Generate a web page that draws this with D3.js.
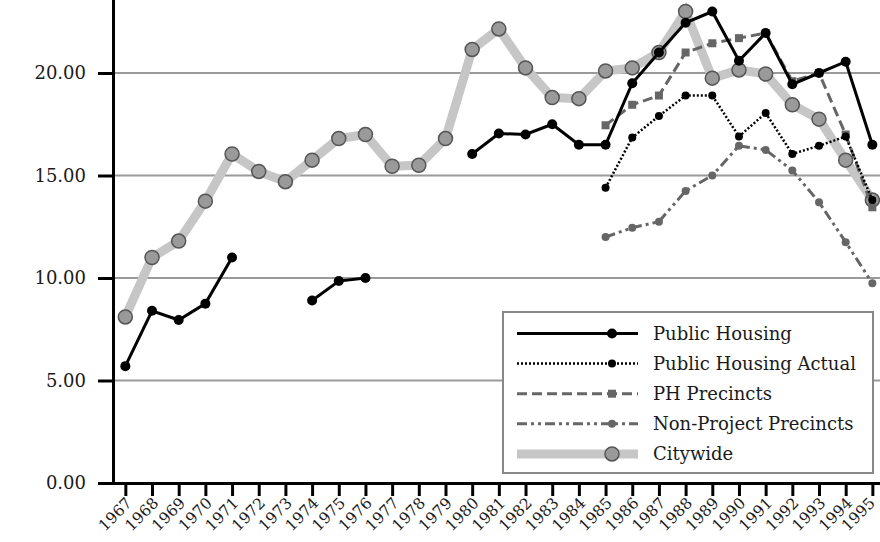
<!DOCTYPE html>
<html>
<head>
<meta charset="utf-8">
<script src="https://cdn.jsdelivr.net/npm/d3@7"></script>
<style>
  html, body { margin: 0; padding: 0; background: #fff; }
  svg { display: block; }
  text { font-family: "DejaVu Serif", serif; fill: #1a1a1a; }
</style>
</head>
<body>
<svg id="chart" width="880" height="542"></svg>
<script>
const years = [1967,1968,1969,1970,1971,1972,1973,1974,1975,1976,1977,1978,1979,1980,1981,1982,1983,1984,1985,1986,1987,1988,1989,1990,1991,1992,1993,1994,1995];

const publicHousing = [5.7,8.4,7.95,8.75,11.0,null,null,8.9,9.85,10.0,null,null,null,16.05,17.05,17.0,17.5,16.5,16.5,19.5,21.0,22.45,23.0,20.6,21.95,19.45,20.0,20.55,16.5];
const publicHousingActual = [null,null,null,null,null,null,null,null,null,null,null,null,null,null,null,null,null,null,14.4,16.85,17.9,18.9,18.9,16.9,18.05,16.05,16.45,16.9,13.8];
const phPrecincts = [null,null,null,null,null,null,null,null,null,null,null,null,null,null,null,null,null,null,17.45,18.45,18.9,21.0,21.45,21.7,21.95,19.6,20.0,17.0,13.45];
const nonProjectPrecincts = [null,null,null,null,null,null,null,null,null,null,null,null,null,null,null,null,null,null,12.0,12.45,12.75,14.25,15.0,16.45,16.25,15.25,13.7,11.75,9.75];
const citywide = [8.1,11.0,11.8,13.75,16.05,15.2,14.7,15.75,16.8,17.0,15.45,15.5,16.8,21.15,22.15,20.25,18.8,18.75,20.1,20.25,21.0,23.0,19.75,20.15,19.95,18.45,17.75,15.75,13.8];

const yTicks = [0,5,10,15,20];
const seriesNames = ["Public Housing","Public Housing Actual","PH Precincts","Non-Project Precincts","Citywide"];

const svg = d3.select("#chart");

const x = d3.scalePoint().domain(years).range([112, 885.7]).padding(0.5);
const y = d3.scaleLinear().domain([0, 25]).range([483, -29.5]);

// gridlines
svg.append("g").selectAll("line")
  .data(yTicks.filter(d => d > 0))
  .join("line")
  .attr("x1", 113).attr("x2", 880)
  .attr("y1", d => y(d)).attr("y2", d => y(d))
  .attr("stroke", "#9a9a9a").attr("stroke-width", 2);

// axes
const yAxis = svg.append("g").attr("transform", "translate(113,0)")
  .call(d3.axisLeft(y).tickValues(yTicks).tickFormat(d3.format(".2f")).tickSize(15).tickPadding(12).tickSizeOuter(0));
yAxis.select(".domain").attr("stroke", "#000").attr("stroke-width", 3);
yAxis.selectAll(".tick line").attr("stroke", "#000").attr("stroke-width", 3);
yAxis.selectAll(".tick text").attr("font-family", "DejaVu Serif").attr("font-size", 18).attr("fill", "#1a1a1a");

const xAxis = svg.append("g").attr("transform", "translate(0,483)")
  .call(d3.axisBottom(x).tickSize(13).tickSizeOuter(0));
xAxis.select(".domain").attr("stroke", "#000").attr("stroke-width", 3);
xAxis.selectAll(".tick line").attr("stroke", "#000").attr("stroke-width", 3);
const lastYear = years[years.length - 1];
xAxis.selectAll(".tick text")
  .attr("font-family", "DejaVu Serif").attr("font-size", 15.5).attr("fill", "#1a1a1a")
  .attr("text-anchor", "end")
  .attr("transform", d => d === lastYear ? "translate(3,21) rotate(-45)" : "translate(7,21) rotate(-45)")
  .attr("x", 0).attr("y", 0).attr("dy", 0);

const styles = {
  "Public Housing": {data: publicHousing, stroke: "#000", width: 3, dash: null, marker: "circle", r: 5, fill: "#000", mstroke: "none"},
  "Public Housing Actual": {data: publicHousingActual, stroke: "#000", width: 2.5, dash: "2,2", marker: "circle", r: 4, fill: "#000", mstroke: "none"},
  "PH Precincts": {data: phPrecincts, stroke: "#666", width: 3, dash: "10,5", marker: "square", r: 4, fill: "#666", mstroke: "none"},
  "Non-Project Precincts": {data: nonProjectPrecincts, stroke: "#666", width: 3, dash: "10,4,3,4,3,4", marker: "circle", r: 4, fill: "#666", mstroke: "none"},
  "Citywide": {data: citywide, stroke: "#c6c6c6", width: 9, dash: null, marker: "circle", r: 7, fill: "#9a9a9a", mstroke: "#555"}
};

const line = d3.line().defined(d => d.v != null).x(d => x(d.year)).y(d => y(d.v));
const drawOrder = ["Citywide","Non-Project Precincts","PH Precincts","Public Housing Actual","Public Housing"];

function drawMarker(g, s, cx, cy) {
  if (s.marker === "square") {
    g.append("rect").attr("x", cx - s.r).attr("y", cy - s.r).attr("width", 2*s.r).attr("height", 2*s.r)
      .attr("fill", s.fill);
  } else {
    g.append("circle").attr("cx", cx).attr("cy", cy).attr("r", s.r)
      .attr("fill", s.fill).attr("stroke", s.mstroke).attr("stroke-width", s.mstroke === "none" ? 0 : 1.5);
  }
}

drawOrder.forEach(name => {
  const s = styles[name];
  const pts = years.map((yr, i) => ({year: yr, v: s.data[i]}));
  const g = svg.append("g");
  g.append("path").datum(pts).attr("d", line)
    .attr("fill", "none").attr("stroke", s.stroke).attr("stroke-width", s.width)
    .attr("stroke-dasharray", s.dash).attr("stroke-linejoin", "miter");
  pts.filter(d => d.v != null).forEach(d => drawMarker(g, s, x(d.year), y(d.v)));
});

// legend
const lg = svg.append("g");
lg.append("rect").attr("x", 503).attr("y", 312).attr("width", 370).attr("height", 161)
  .attr("fill", "#fff").attr("stroke", "#888").attr("stroke-width", 2);
seriesNames.forEach((name, i) => {
  const s = styles[name];
  const cy = 333.5 + i * 30.1;
  const row = lg.append("g");
  row.append("line").attr("x1", 517).attr("x2", 638).attr("y1", cy).attr("y2", cy)
    .attr("stroke", s.stroke).attr("stroke-width", s.width).attr("stroke-dasharray", s.dash);
  drawMarker(row, s, 612, cy);
  row.append("text").attr("x", 653).attr("y", cy).attr("dy", "0.35em")
    .attr("font-size", 18).text(name);
});
</script>
</body>
</html>
